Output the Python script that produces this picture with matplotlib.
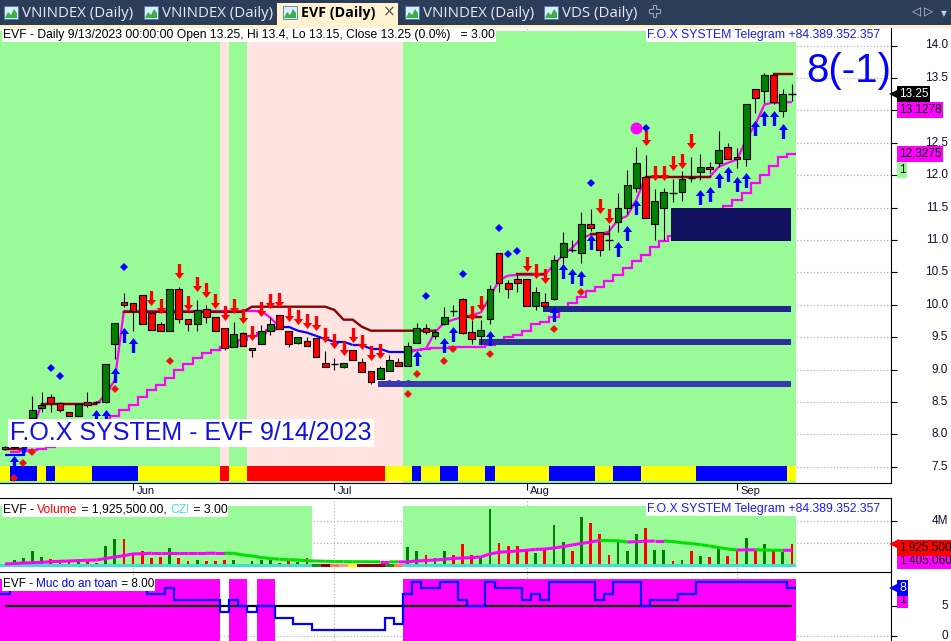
import numpy as np
import pandas as pd
import matplotlib
matplotlib.use("Agg")
import matplotlib.pyplot as plt
from matplotlib.path import Path
from matplotlib.patches import Rectangle
from matplotlib.collections import LineCollection
from matplotlib.transforms import blended_transform_factory as blend
import matplotlib.patheffects as pe

plt.rcParams['font.family'] = ['Liberation Sans', 'DejaVu Sans']

# ---------------- data (EVF daily) ----------------
dates = pd.bdate_range("2023-05-12", "2023-09-13")
dates = dates[~dates.isin(pd.to_datetime(["2023-09-01", "2023-09-04"]))]

opens = [7.80, 7.80, 7.85, 8.26, 8.41, 8.58, 8.48, 8.35, 8.28, 8.50,
         8.50, 8.50, 9.40, 10.04, 10.03, 10.15, 9.87, 9.70, 9.60, 10.25,
         9.78, 9.70, 9.93, 9.81, 9.64, 9.35, 9.57, 9.30, 9.40, 9.60,
         9.84, 9.60, 9.41, 9.44, 9.49, 9.10, 9.08, 9.04, 9.30, 9.12,
         8.98, 8.86, 8.98, 9.12, 9.06, 9.41, 9.64, 9.52, 9.71, 9.90,
         10.09, 9.58, 9.52, 9.78, 10.80, 10.33, 10.40, 10.40, 9.98, 10.04,
         10.09, 10.74, 10.85, 10.80, 11.25, 11.12, 11.00, 11.28, 11.50, 11.80,
         11.97, 11.25, 11.50, 11.73, 11.74, 11.96, 12.05, 12.13, 12.19, 12.44,
         12.28, 12.25, 13.33, 13.30, 13.55, 12.99, 13.25]
highs = [7.82, 7.86, 8.10, 8.59, 8.66, 8.62, 8.50, 8.35, 8.47, 8.66,
         8.52, 9.09, 9.72, 10.18, 10.03, 10.15, 9.87, 9.74, 10.25, 10.28,
         9.78, 10.07, 10.00, 9.81, 9.64, 9.74, 9.58, 9.34, 9.69, 9.81,
         9.84, 9.60, 9.50, 9.50, 9.49, 9.29, 9.18, 9.10, 9.30, 9.18,
         8.98, 9.05, 9.23, 9.18, 9.43, 9.72, 9.70, 9.62, 9.96, 10.00,
         10.10, 9.76, 9.76, 10.30, 10.80, 10.38, 10.46, 10.40, 10.28, 10.18,
         10.77, 11.13, 11.00, 11.43, 11.48, 11.12, 11.23, 11.73, 12.08, 12.44,
         12.31, 11.79, 11.80, 11.94, 12.07, 12.28, 12.33, 12.20, 12.68, 12.50,
         12.42, 13.10, 13.33, 13.58, 13.55, 13.33, 13.40]
lows = [7.76, 7.78, 7.83, 8.25, 8.35, 8.35, 8.35, 8.28, 8.28, 8.42,
        8.47, 8.48, 9.17, 9.97, 9.60, 9.70, 9.61, 9.59, 9.60, 9.72,
        9.59, 9.60, 9.72, 9.60, 9.30, 9.35, 9.37, 9.20, 9.40, 9.54,
        9.63, 9.35, 9.40, 9.36, 9.20, 9.04, 9.00, 9.02, 9.15, 8.96,
        8.77, 8.85, 8.98, 9.05, 9.06, 9.41, 9.55, 9.47, 9.69, 9.82,
        9.55, 9.40, 9.38, 9.70, 10.20, 10.10, 10.20, 9.98, 9.92, 9.98,
        10.07, 10.63, 10.82, 10.65, 11.14, 10.76, 10.85, 11.12, 11.40, 11.74,
        11.34, 11.00, 11.00, 11.59, 11.60, 11.90, 11.93, 12.03, 12.13, 12.25,
        12.11, 12.14, 12.96, 13.12, 13.10, 12.90, 13.15]
closes = [7.78, 7.84, 8.05, 8.38, 8.45, 8.48, 8.38, 8.28, 8.47, 8.45,
          8.50, 9.09, 9.72, 10.00, 9.90, 9.70, 9.61, 9.60, 10.25, 9.78,
          9.70, 9.92, 9.81, 9.60, 9.33, 9.55, 9.37, 9.33, 9.60, 9.70,
          9.63, 9.40, 9.50, 9.37, 9.20, 9.04, 9.08, 9.10, 9.15, 8.96,
          8.81, 9.03, 9.15, 9.06, 9.36, 9.64, 9.58, 9.58, 9.81, 9.90,
          9.57, 9.47, 9.61, 10.25, 10.33, 10.24, 10.33, 9.98, 10.20, 9.98,
          10.69, 10.96, 10.85, 11.25, 11.19, 10.85, 11.00, 11.50, 11.85, 12.19,
          11.34, 11.60, 11.74, 11.73, 11.94, 11.96, 12.13, 12.10, 12.39, 12.25,
          12.25, 13.10, 13.19, 13.55, 13.13, 13.25, 13.25]

# volume in millions of shares and its moving average
volume = [0.20, 0.53, 0.71, 1.33, 0.80, 0.62, 0.53, 0.44, 0.53, 0.44,
          0.27, 1.78, 2.40, 2.40, 1.16, 1.33, 0.71, 0.80, 1.60, 0.71,
          0.44, 0.53, 0.44, 0.44, 0.53, 0.53, 0.18, 0.44, 0.53, 0.53,
          0.27, 0.44, 0.36, 0.71, 0.30, 0.25, 0.20, 0.30, 0.25, 0.35,
          0.40, 0.30, 0.25, 0.30, 1.69, 1.33, 0.98, 0.71, 1.33, 0.98,
          1.96, 0.98, 0.71, 5.07, 2.04, 1.78, 1.78, 1.51, 1.16, 1.51,
          3.64, 2.13, 1.33, 4.36, 3.82, 2.84, 0.98, 2.31, 1.33, 2.84,
          3.38, 1.42, 1.42, 0.44, 0.53, 1.33, 0.89, 0.80, 1.69, 0.89,
          1.51, 2.49, 1.51, 1.96, 1.42, 1.24, 1.9255]
vol_ma = [0.18, 0.22, 0.27, 0.29, 0.33, 0.38, 0.42, 0.44, 0.48, 0.51,
          0.53, 0.67, 0.80, 0.92, 1.07, 1.10, 1.13, 1.13, 1.13, 1.13,
          1.13, 1.13, 1.13, 1.14, 1.14, 1.12, 0.98, 0.89, 0.76, 0.67,
          0.60, 0.56, 0.53, 0.47, 0.44, 0.42, 0.40, 0.39, 0.385, 0.38,
          0.375, 0.37, 0.37, 0.365, 0.37, 0.44, 0.49, 0.53, 0.60, 0.67,
          0.71, 0.75, 0.80, 1.07, 1.22, 1.28, 1.33, 1.40, 1.47, 1.51,
          1.60, 1.73, 1.87, 2.00, 2.13, 2.27, 2.26, 2.24, 2.13, 2.16,
          2.20, 2.22, 2.22, 2.18, 2.06, 2.00, 1.89, 1.78, 1.64, 1.51,
          1.42, 1.43, 1.44, 1.42, 1.40, 1.39, 1.40506]

# trailing lines of the F.O.X system
upper_line = [7.68, 7.68, 7.68, 8.07, 8.47, 8.47, 8.47, 8.47, 8.47, 8.47,
              8.47, 8.61, 8.84, 9.91, 9.91, 9.91, 9.91, 9.91, 9.91, 9.91,
              9.91, 9.91, 9.91, 9.91, 9.91, 9.91, 9.91, 9.91, 9.91, 9.80,
              9.66, 9.66, 9.60, 9.57, 9.52, 9.47, 9.43, 9.43, 9.38, 9.38,
              9.32, 9.32, 9.27, 9.27, 9.27, 9.30, 9.32, 9.58, 9.72, 9.77,
              9.81, 9.84, 9.88, 10.12, 10.38, 10.45, 10.46, 10.46, 10.46, 10.46,
              10.62, 10.77, 10.88, 11.03, 11.08, 11.09, 11.13, 11.31, 11.37, 11.62,
              11.97, 11.97, 11.97, 11.97, 11.97, 11.97, 11.97, 11.97, 12.13, 12.19,
              12.24, 12.55, 12.78, 13.09, 13.12, 13.12, 13.1278]
upper_state = "BBB" + "M" * 27 + "B" * 14 + "M" * 43
lower_line = ([None, 7.73, 7.75, 7.76, 7.78, 7.81, 7.84, 7.92, 7.99, 8.07,
               8.15, 8.22, 8.29, 8.38, 8.46, 8.58, 8.69, 8.76, 8.87, 9.00,
               9.09, 9.18, 9.26, 9.30, 9.35, 9.37, 9.46, 9.52, 9.57, 9.61,
               9.66] + [None] * 13 +
              [9.27, 9.30, 9.32, 9.34, 9.34, 9.35, 9.35, 9.35, 9.35, 9.38,
               9.46, 9.50, 9.54, 9.60, 9.70, 9.74, 9.81, 9.92, 10.03, 10.12,
               10.21, 10.28, 10.37, 10.46, 10.57, 10.68, 10.77, 10.89, 10.99, 11.06,
               11.13, 11.19, 11.25, 11.33, 11.40, 11.53, 11.62, 11.73, 11.88, 12.00,
               12.14, 12.28, 12.3275])
stop_line = ([7.78] * 3 + [None] + [8.47] * 7 + [None] * 2 + [9.89] * 14 +
             [9.97] * 9 + [9.92, 9.77, 9.77, 9.66] + [9.60] * 8 + [None] * 2 +
             [9.81] * 3 + [None] * 3 + [10.48] * 4 + [None] * 4 + [11.09] * 3 +
             [None] * 3 + [11.97] * 8 + [None] * 6 + [13.56] * 3)

# signals
buy_idx = [1, 2, 10, 11, 12, 13, 14, 45, 48, 49, 53, 60, 61, 62, 63, 64, 67, 68, 69,
           76, 77, 78, 79, 80, 81, 82, 83, 84, 85]
buy_px = [7.56, 7.79, 8.27, 8.27, 8.92, 9.54, 9.38, 9.18, 9.38, 9.55, 9.49, 9.85, 10.52,
          10.45, 10.42, 10.97, 10.86, 11.11, 11.51, 11.67, 11.71, 11.93, 12.02, 11.87,
          11.93, 12.73, 12.88, 12.88, 12.68]
sell_idx = [16, 17, 19, 20, 21, 22, 23, 24, 25, 26, 27, 28, 29, 30, 31, 32, 33, 34, 35,
            36, 37, 38, 39, 40, 41, 51, 52, 57, 58, 59, 65, 66, 70, 71, 72, 73, 74, 75]
sell_px = [10.11, 9.98, 10.52, 10.03, 10.32, 10.23, 10.06, 9.87, 9.98, 9.83, 9.57, 9.94,
           10.06, 10.08, 9.85, 9.81, 9.75, 9.72, 9.54, 9.44, 9.33, 9.54, 9.43, 9.26, 9.29,
           9.87, 10.03, 10.63, 10.52, 10.44, 11.53, 11.37, 12.58, 12.04, 12.04, 12.18,
           12.22, 12.53]
blue_dot_idx = [5, 6, 13, 46, 50, 54, 55, 56, 64, 70]
blue_dot_px = [9.03, 8.90, 10.58, 10.14, 10.48, 11.19, 10.79, 10.83, 11.88, 12.73]
red_dot_idx = [1, 2, 3, 12, 18, 44, 45, 48, 49, 53, 60, 63]
red_dot_px = [7.33, 7.56, 7.73, 8.70, 9.13, 8.62, 8.93, 9.13, 9.32, 9.24, 9.63, 10.19]
ring_idx = [42, 43, 44]
ring_px = [8.80, 8.80, 8.80]
peak_idx = [69]
peak_px = [12.73]

# support zones: first bar, low, high
zone_start = [59, 52, 41, 73]
zone_low = [9.89, 9.38, 8.73, 10.98]
zone_high = [9.98, 9.47, 8.82, 11.49]
zone_color = ['#23238c', '#2d2d9c', '#3838b0', '#10105e']

# per-bar states
bg_state = "G" * 24 + "P" + "GG" + "P" * 17 + "G" * 43
strip_state = ("Y" + "BBB" + "Y" + "B" + "YYYY" + "BBBBB" + "Y" * 9 + "R" + "YY" +
               "R" * 15 + "YYY" + "B" + "YY" + "BB" + "YYY" + "B" + "Y" * 6 +
               "BBBBB" + "YY" + "BBB" + "Y" * 6 + "B" * 10 + "Y")
vol_bg = "G" * 34 + "W" * 10 + "G" * 43
czi_colors = (['#40e0d0'] * 34 +
              ['#228b22', '#8b0000', '#ff7f50', '#ffa07a', '#ffff00',
               '#8b0000', '#8b0000', '#8b0000', '#228b22', '#ff7f50'] +
              ['#40e0d0'] * 43)
safety = ([7] + [8] * 15 + [7, 7, 8] + [6] * 5 + [4, 6, 5, 4, 5, 5, 3, 3, 2, 2] +
          [1] * 8 + [3, 2, 7, 9, 8, 8, 9, 9, 6, 5, 5, 9, 8, 8, 8, 6, 7, 6] +
          [9] * 5 + [6, 7, 9, 9, 9, 5, 6, 6, 6, 7, 7] + [9] * 10 + [8])
safety_bg = "M" * 24 + "W" + "MM" + "W" + "MM" + "W" * 14 + "M" * 43

n = len(dates)
idx = np.arange(n)
month_idx = [i for i in range(1, n) if dates[i].month != dates[i - 1].month]
month_lab = [dates[i].strftime('%b') for i in month_idx]


def runs(seq):
    out, start = [], 0
    for i in range(1, len(seq) + 1):
        if i == len(seq) or seq[i] != seq[start]:
            out.append((seq[start], start, i - 1))
            start = i
    return out


# ---------------- figure ----------------
W, H = 951, 641
fig = plt.figure(figsize=(W / 100, H / 100), dpi=100)


def px_axes(l, t, r, b):
    return fig.add_axes([l / W, 1 - b / H, (r - l) / W, (b - t) / H])


XL = (-0.546, 96.83)
grid_kw = dict(color='#a8a8a8', ls=(0, (1, 2)), lw=0.8, zorder=0.1)

# ---- main price panel ----
ax = px_axes(0, 28, 891, 483)
ax.set_xlim(*XL)
ax.set_ylim(7.25, 14.27)
price_ticks = np.arange(7.5, 14.01, 0.5)
for v in price_ticks:
    ax.axhline(v, **grid_kw)
for m in month_idx:
    ax.axvline(m, **grid_kw)

bg_col = {'G': '#98fb98', 'P': '#ffe4e1'}
for s, a, b in runs(bg_state):
    ax.add_patch(Rectangle((a - 0.5, 7.25), b - a + 1, 14.22 - 7.25, fc=bg_col[s], ec='none', zorder=0.2))
strip_col = {'Y': '#ffff00', 'B': '#0000ff', 'R': '#ff0000'}
for s, a, b in runs(strip_state):
    ax.add_patch(Rectangle((a - 0.5, 7.28), b - a + 1, 0.23, fc=strip_col[s], ec='none', zorder=1))

# lower trailing line (stairs)
for miss, a, b in runs([v is None for v in lower_line]):
    if not miss:
        ax.stairs(lower_line[a:b + 1], np.arange(a, b + 2) - 0.5, baseline=None,
                  color='#ff00ff', lw=1.6, zorder=2)
# upper trailing line, magenta / blue
segs = [[(i, upper_line[i]), (i + 1, upper_line[i + 1])] for i in range(n - 1)]
cols = ['#0000ff' if upper_state[i] == 'B' else '#ff00ff' for i in range(n - 1)]
ax.add_collection(LineCollection(segs, colors=cols, linewidths=1.6, zorder=2.1))
# stop line
for miss, a, b in runs([v is None for v in stop_line]):
    if not miss:
        ax.plot(idx[a:b + 1], stop_line[a:b + 1], color='#8b0000', lw=1.7, zorder=2.2)

for s, lo, hi, c in zip(zone_start, zone_low, zone_high, zone_color):
    ax.add_patch(Rectangle((s - 0.2, lo), n - 1.1 - (s - 0.2), hi - lo, fc=c, ec='none', zorder=2.5))

ax.plot(ring_idx, ring_px, ls='none', marker='o', ms=4, mfc='none', mec='#0000ff', mew=0.7, zorder=2.4)

# candles
for i in range(n):
    o, h, l, c = opens[i], highs[i], lows[i], closes[i]
    ax.vlines(i, l, h, color='black', lw=0.8, zorder=3)
    if c == o:
        ax.hlines(o, i - 0.4, i + 0.4, color='black', lw=1.0, zorder=3.1)
    else:
        fc = '#008000' if c > o else '#ff0000'
        ax.add_patch(Rectangle((i - 0.37, min(o, c)), 0.74, abs(c - o), fc=fc, ec='black', lw=0.8, zorder=3.1))

up_arrow = Path([(0, 1), (0.62, 0.2), (0.22, 0.2), (0.22, -1), (-0.22, -1), (-0.22, 0.2),
                 (-0.62, 0.2), (0, 1)], closed=True)
down_arrow = Path([(x, -y) for x, y in up_arrow.vertices], closed=True)
ax.plot(buy_idx, buy_px, ls='none', marker=up_arrow, ms=10.8, color='#0000ff', mew=0, zorder=4)
ax.plot(sell_idx, sell_px, ls='none', marker=down_arrow, ms=10.8, color='#ff0000', mew=0, zorder=4)
ax.plot(blue_dot_idx, blue_dot_px, ls='none', marker='D', ms=4.2, color='#0000ff', mew=0, zorder=4)
ax.plot(red_dot_idx, red_dot_px, ls='none', marker='D', ms=4.2, color='#f01010', mew=0, zorder=4)
ax.plot(peak_idx, peak_px, ls='none', marker='o', ms=8.6, color='#ff00ff', mew=0, zorder=4)

ax.set_yticks(price_ticks)
ax.set_xticks(month_idx)
ax.tick_params(axis='y', left=False, right=True, labelleft=False, length=4, color='black')
ax.tick_params(axis='x', bottom=True, labelbottom=False, length=5, color='black')
for sp in ['left', 'top']:
    ax.spines[sp].set_visible(False)
for sp in ['right', 'bottom']:
    ax.spines[sp].set_color('black')

# ---- volume panel ----
axv = px_axes(0, 498, 891, 572)
axv.set_xlim(*XL)
axv.set_ylim(-0.533, 6.04)
for v in [2, 4]:
    axv.axhline(v, **grid_kw)
for m in month_idx:
    axv.axvline(m, **grid_kw)
for s, a, b in runs(vol_bg):
    if s == 'G':
        axv.add_patch(Rectangle((a - 0.5, -0.09), b - a + 1, 5.42, fc='#98fb98', ec='none', zorder=0.2))
shown = [i for i in range(n) if vol_bg[i] == 'G']
axv.bar(shown, [volume[i] for i in shown], width=0.3, lw=0, zorder=2,
        color=['#008000' if closes[i] > opens[i] else '#ff0000' for i in shown])
for c, a, b in runs(czi_colors):
    axv.add_patch(Rectangle((a - 0.5, -0.13), b - a + 1, 0.31, fc=c, ec='none', zorder=2.5))
vsegs = [[(i, vol_ma[i]), (i + 1, vol_ma[i + 1])] for i in range(n - 1)]
vcols = ['#ff00ff' if vol_ma[i + 1] >= vol_ma[i] else '#00e000' for i in range(n - 1)]
axv.add_collection(LineCollection(vsegs, colors=vcols, linewidths=2.2, zorder=3))
axv.set_yticks([2, 4])
axv.set_xticks([])
axv.tick_params(axis='y', left=False, right=True, labelleft=False, length=4)
for sp in ['left', 'bottom']:
    axv.spines[sp].set_visible(False)

# ---- safety level panel ----
axb = px_axes(0, 572, 891, 641)
axb.set_xlim(*XL)
axb.set_ylim(-0.88, 10.62)
for m in month_idx:
    axb.axvline(m, **grid_kw)
axb.axhline(0, **grid_kw)
for s, a, b in runs(safety_bg):
    if s == 'M':
        axb.add_patch(Rectangle((a - 0.5, -0.88), b - a + 1, 9.45 + 0.88, fc='#ff00ff', ec='none', zorder=0.2))
axb.hlines(5, 0, n - 1, color='black', lw=1.6, zorder=3)
axb.stairs(safety, np.arange(n + 1) - 0.5, baseline=None, color='#0000ff', lw=1.6, zorder=4)
axb.set_yticks([0, 5])
axb.set_xticks([])
axb.tick_params(axis='y', left=False, right=True, labelleft=False, length=4)
for sp in ['left', 'bottom']:
    axb.spines[sp].set_visible(False)

# ---------------- overlay (pixel coordinates) ----------------
ov = fig.add_axes([0, 0, 1, 1])
ov.set_zorder(10)
ov.set_xlim(0, W)
ov.set_ylim(H, 0)
ov.axis('off')
ov.patch.set_visible(False)

tr_main = blend(ov.transData, ax.transData)
tr_vol = blend(ov.transData, axv.transData)
tr_bot = blend(ov.transData, axb.transData)
lab_kw = dict(ha='right', va='center', fontsize=8.5, color='#101030')

# the magenta 13.1278 tag sits 16 px under the close tag and hides the 13.0 label
tag_hidden = closes[-1] - 16 / (455 / (14.27 - 7.25))
for v in price_ticks:
    if abs(v - tag_hidden) > 0.1:
        ov.text(948, v, f"{v:.1f}", transform=tr_main, **lab_kw)
ov.text(948, 4, "4M", transform=tr_vol, **lab_kw)
for v in [0, 5]:
    ov.text(948, v, f"{v}", transform=tr_bot, **lab_kw)

tr_month = blend(ax.transData, ov.transData)
for m, lab in zip(month_idx, month_lab):
    ov.text(m + 0.35, 491, lab, transform=tr_month, ha='left', va='center', fontsize=8, color='#101030')


def tag(tr, y, s, fc, tc, dy=0, arrow=False, size=8.5):
    if arrow:
        ov.plot([894], [y], marker='<', ms=7, color=fc, mew=0, transform=tr, clip_on=False)
    ov.annotate(s, xy=(899, y), xycoords=tr, xytext=(0, -dy), textcoords='offset points',
                ha='left', va='center', fontsize=size, color=tc, annotation_clip=False,
                bbox=dict(boxstyle='square,pad=0.15', fc=fc, ec='none'))


# price tags, stacked like the platform does
tag(tr_main, closes[-1], f"{upper_line[-1]:.4f}", '#ff00ff', 'black', dy=11.5)
tag(tr_main, closes[-1], f"{closes[-1]:.2f}", 'black', 'white', arrow=True)
tag(tr_main, lower_line[-1], f"{lower_line[-1]:.4f}", '#ff00ff', 'black')
tag(tr_main, lower_line[-1], "1", '#98fb98', 'black', dy=11.5)
tag(tr_vol, volume[-1], f"{vol_ma[-1] * 1e6:,.0f}", '#ff00ff', 'black', dy=12)
tag(tr_vol, volume[-1], f"{volume[-1] * 1e6:,.0f}", '#ff0000', 'black', dy=2.5)
ov.plot([894], [volume[-1]], marker='<', ms=7, color='#ff0000', mew=0, transform=tr_vol, clip_on=False)
tag(tr_bot, safety[-1], "1", '#ff00ff', 'black', dy=8.8, size=9)
tag(tr_bot, safety[-1], f"{safety[-1]}", '#0000ff', 'white', arrow=True, size=9)

# panel titles
white_box = dict(boxstyle='square,pad=0.1', fc='white', ec='none')
d = dates[-1]
pct = (closes[-1] / closes[-2] - 1) * 100
ov.text(3, 35, f"EVF - Daily {d.month}/{d.day}/{d.year} 00:00:00 Open {opens[-1]:g}, Hi {highs[-1]:g}, "
        f"Lo {lows[-1]:g}, Close {closes[-1]:g} ({pct:.1f}%)   = 3.00",
        ha='left', va='center', fontsize=8.7, color='black', bbox=white_box)

renderer = fig.canvas.get_renderer()


def chain(x, y, pieces, size=8.7):
    # coloured pieces on one baseline, placed one after another
    for s, c in pieces:
        t = ov.text(x, y, s, ha='left', va='baseline', fontsize=size, color=c, bbox=white_box)
        ext = t.get_window_extent(renderer)
        x = ov.transData.inverted().transform((ext.x1, ext.y0))[0]


chain(3, 513, [("EVF - ", 'black'), ("Volume", '#ff0000'),
               (f" = {volume[-1] * 1e6:,.2f}, ", 'black'), ("CZI", '#40e0d0'), (" = 3.00", 'black')])
chain(3, 587, [("EVF - ", 'black'), ("Muc do an toan", '#0000ff'), (f" = {safety[-1]:.2f}", 'black')],
      size=8.5)

for yy in [35, 509]:
    ov.text(880, yy, "F.O.X SYSTEM Telegram +84.389.352.357", ha='right', va='center',
            fontsize=8.8, color='#1a1aff', bbox=white_box)

ov.text(10, 433, "F.O.X SYSTEM - EVF 9/14/2023", ha='left', va='center', fontsize=18,
        color='#1010e8', bbox=dict(boxstyle='square,pad=0.08', fc='white', ec='none'))
ov.text(849, 71, "8(-1)", ha='center', va='center', fontsize=29, color='#0000ff')

# ---------------- tab bar ----------------
ov.add_patch(Rectangle((0, 0), W, 25, fc='#2c3d5a', ec='none'))
ov.add_patch(Rectangle((0, 25), W, 3, fc='#fff0c8', ec='none'))
ov.add_patch(Rectangle((277, 3), 121, 25, fc='#fff3d2', ec='none'))
tabs = [("VNINDEX (Daily)", 4, False), ("VNINDEX (Daily)", 144, False), ("EVF (Daily)", 283, True),
        ("VNINDEX (Daily)", 405, False), ("VDS (Daily)", 544, False)]
for label, x0, active in tabs:
    ov.add_patch(Rectangle((x0, 6), 14, 13, fc='#dbeeff', ec='#4a78b0', lw=0.6))
    ov.fill([x0 + 1, x0 + 4, x0 + 7, x0 + 10, x0 + 13, x0 + 13, x0 + 1],
            [18, 12, 15, 9, 13, 18, 18], color='#3cb043', lw=0)
    ov.text(x0 + 18, 13.5, label, ha='left', va='center', fontsize=10.3 if active else 10.8,
            family=['Open Sans', 'DejaVu Sans'], fontweight='bold' if active else 'normal',
            color='black' if active else '#e8ebf0')
ov.text(389, 12.5, "\u00d7", ha='center', va='center', fontsize=11, color='#555555',
        family=['DejaVu Sans'])
ov.text(655, 13, "+", ha='center', va='center', fontsize=15, color='#2c3d5a', fontweight='bold',
        path_effects=[pe.withStroke(linewidth=1.6, foreground='#9aa3b5')])
for xx, g in [(916, "\u25c1"), (929, "\u25b7"), (944, "\u25be")]:
    ov.text(xx, 12.5, g, ha='center', va='center', fontsize=8.5, color='#c8cdd8', family=['DejaVu Sans'])

fig.savefig("out.png", dpi=100)
